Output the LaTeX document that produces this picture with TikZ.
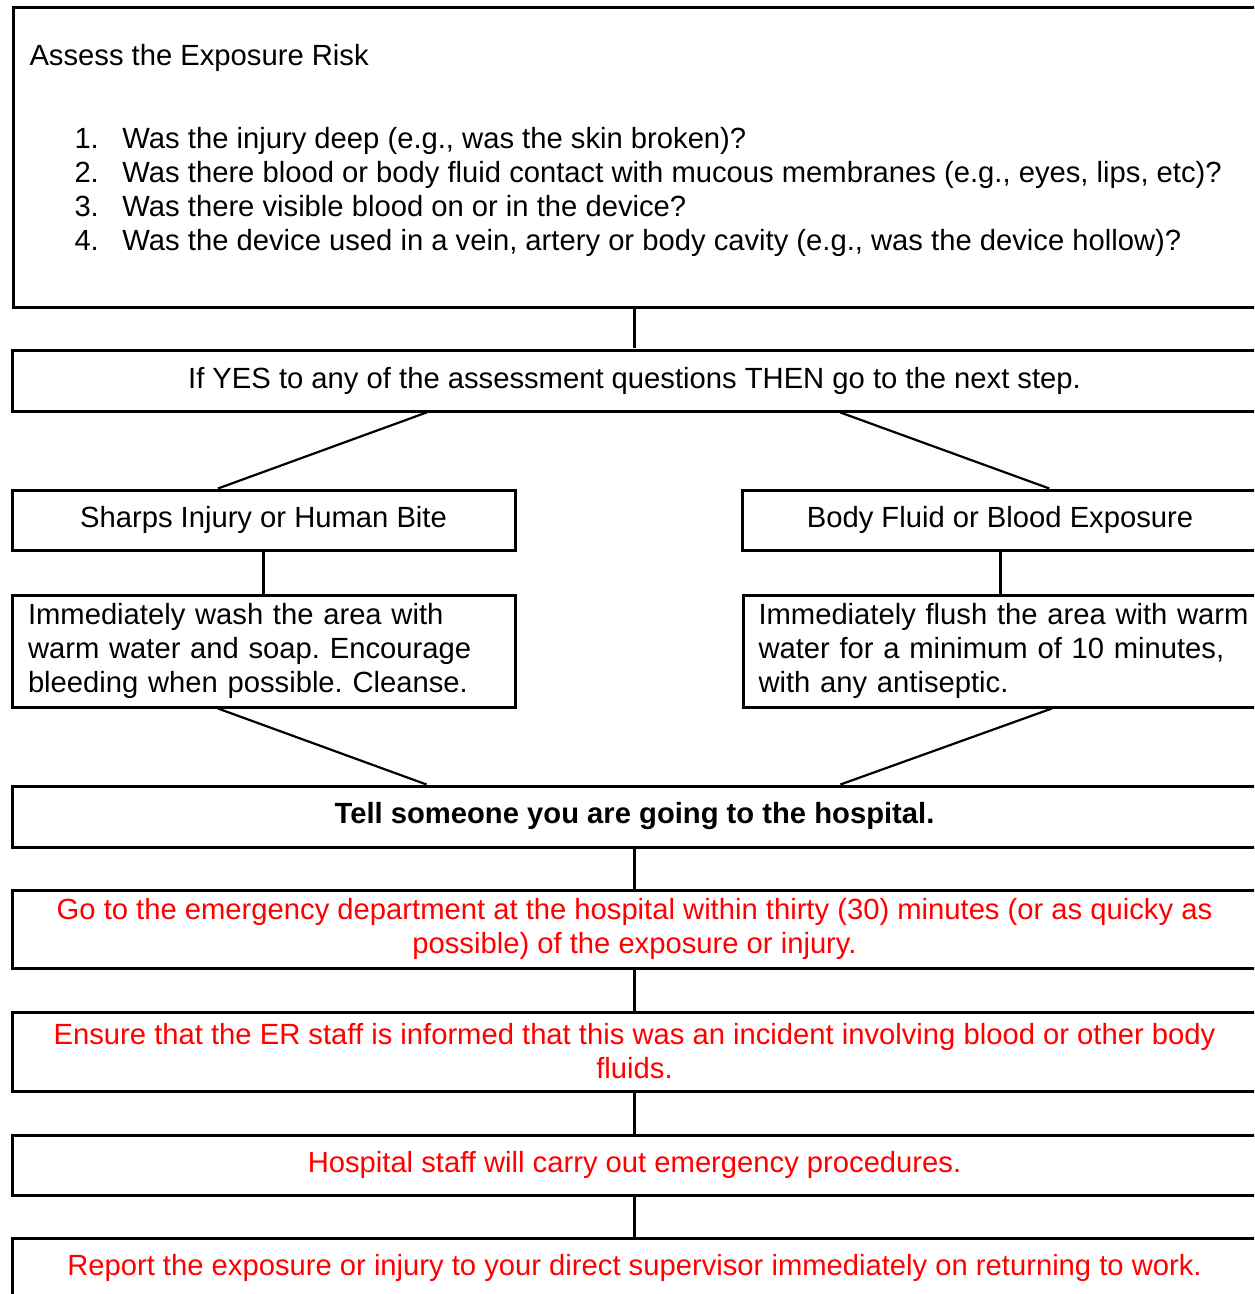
\documentclass[tikz,border=0pt]{standalone}
\usepackage{fontspec}
\setmainfont{Liberation Sans}
\usepackage{tikz}
\usetikzlibrary{positioning}
\usetikzlibrary{calc}
\frenchspacing
\tikzset{stepbox/.style={draw, line width=1.5pt, rectangle, inner sep=0pt, font=\fontsize{14.6}{17}\selectfont}}
\tikzset{widebox/.style={stepbox, minimum width=622.5pt}}
\tikzset{halfbox/.style={stepbox, minimum width=#1}}
\tikzset{alert/.style={text=red, align=center}}
\tikzset{link/.style={line width=1.5pt}}
\tikzset{slant/.style={line width=1.1pt}}

\begin{document}
\begin{tikzpicture}[x=0.5pt,y=-0.5pt]
\useasboundingbox (0,0) rectangle (1254,1294);
\clip (0,0) rectangle (1254,1294);
\node[widebox, minimum height=150pt, inner xsep=8pt, anchor=north west] (assess) at (12,6) {\parbox[c][150pt][t]{606.5pt}{\raggedright\vspace*{18.5pt}Assess the Exposure Risk\par\vspace{24.5pt}
\hspace*{22.5pt}\makebox[24pt][l]{1.}Was the injury deep (e.g., was the skin broken)?\\
\hspace*{22.5pt}\makebox[24pt][l]{2.}Was there blood or body fluid contact with mucous membranes (e.g., eyes, lips, etc)?\\
\hspace*{22.5pt}\makebox[24pt][l]{3.}Was there visible blood on or in the device?\\
\hspace*{22.5pt}\makebox[24pt][l]{4.}Was the device used in a vein, artery or body cavity (e.g., was the device hollow)?}};
\node[widebox, minimum height=30.5pt] (yes) at (634.5,380.5) {If YES to any of the assessment questions THEN go to the next step.};
\node[halfbox=251.5pt, minimum height=30pt] (sharps) at (263.5,520) {Sharps Injury or Human Bite};
\node[halfbox=258pt, minimum height=30pt] (fluid) at (1000,520) {Body Fluid or Blood Exposure};
\node[stepbox, text width=235.5pt, inner xsep=8pt, align=left, minimum height=56pt] (wash) at (263.5,651) {Immediately wash the area with\\ warm water and soap. Encourage\\ bleeding when possible. Cleanse.};
\node[stepbox, text width=252pt, inner xsep=7.5pt, align=left, minimum height=56pt, anchor=west] (flush) at (742,651) {Immediately flush the area with warm\\ water for a minimum of 10 minutes,\\ with any antiseptic.};
\node[widebox, minimum height=30.5pt, font=\fontsize{14.6}{17}\selectfont\bfseries] (tell) at (634.5,816.5) {Tell someone you are going to the hospital.};
\node[widebox, alert, minimum height=39pt] (goto) at (634.5,929) {Go to the emergency department at the hospital within thirty (30) minutes (or as quicky as\\ possible) of the exposure or injury.};
\node[widebox, alert, minimum height=39.5pt] (ensure) at (634.5,1051.5) {Ensure that the ER staff is informed that this was an incident involving blood or other body\\ fluids.};
\node[widebox, alert, minimum height=30pt] (staff) at (634.5,1165) {Hospital staff will carry out emergency procedures.};
\node[widebox, alert, minimum height=30pt] (report) at (634.5,1268) {Report the exposure or injury to your direct supervisor immediately on returning to work.};
% connectors
\draw[link] (yes.north |- assess.south) -- (yes.north);
\draw[slant] ($(yes.south west)!1/3!(yes.south east)$) -- ($(sharps.north west)!0.41!(sharps.north east)$);
\draw[slant] ($(yes.south west)!0.665!(yes.south east)$) -- ($(fluid.north west)!0.595!(fluid.north east)$);
\draw[link] (sharps) -- (wash);
\draw[link] (fluid.south) -- (fluid.south |- flush.north);
\draw[slant] ($(wash.south west)!0.41!(wash.south east)$) -- ($(tell.north west)!1/3!(tell.north east)$);
\draw[slant] ($(flush.south west)!0.577!(flush.south east)$) -- ($(tell.north west)!0.665!(tell.north east)$);
\draw[link] (tell) -- (goto);
\draw[link] (goto) -- (ensure);
\draw[link] (ensure) -- (staff);
\draw[link] (staff) -- (report);
\end{tikzpicture}
\end{document}
